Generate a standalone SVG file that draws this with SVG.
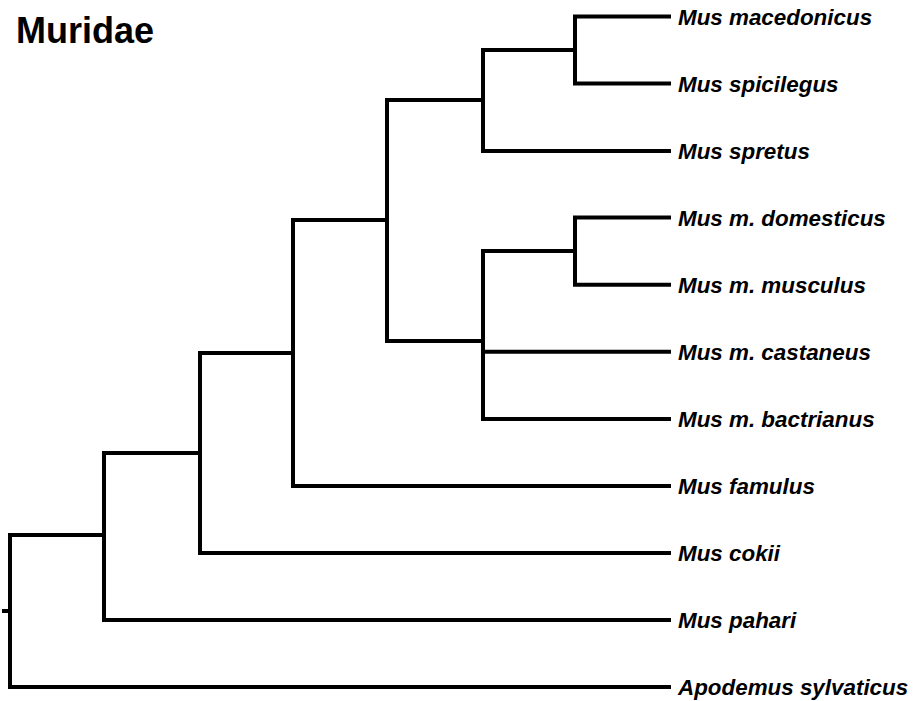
<svg xmlns="http://www.w3.org/2000/svg" width="916" height="701" viewBox="0 0 916 701">
<style>
.br{fill:none;stroke:#000;stroke-width:4;stroke-linejoin:miter;stroke-linecap:square}
.lb{font-family:"Liberation Sans",Arial,sans-serif;font-weight:bold;font-style:italic;font-size:22.4px;fill:#000}
.tt{font-family:"Liberation Sans",Arial,sans-serif;font-weight:bold;font-size:36px;fill:#000}
</style>
<rect width="916" height="701" fill="#fff"/>
<g id="title"><text class="tt" x="16" y="43">Muridae</text></g>
<g id="connectors">
<path class="br" d="M4,611 H10"/>
<path class="br" d="M104,535 H10 V687 H669"/>
<path class="br" d="M200,453 H104 V620 H669"/>
<path class="br" d="M293,353 H200 V553 H669"/>
<path class="br" d="M387,220 H293 V486 H669"/>
<path class="br" d="M483,100 H387 V341 H483"/>
<path class="br" d="M575,50 H483 V151 H669"/>
<path class="br" d="M669,16.5 H575 V83.5 H669"/>
<path class="br" d="M575,251 H483 V419 H669"/>
<path class="br" d="M483,351.7 H669"/>
<path class="br" d="M669,217.6 H575 V284.7 H669"/>
</g>
<g id="n_macedonicus"><text class="lb" x="678" y="25">Mus macedonicus</text></g>
<g id="n_spicilegus"><text class="lb" x="678" y="92">Mus spicilegus</text></g>
<g id="n_spretus"><text class="lb" x="678" y="159">Mus spretus</text></g>
<g id="n_domesticus"><text class="lb" x="678" y="226">Mus m. domesticus</text></g>
<g id="n_musculus"><text class="lb" x="678" y="293">Mus m. musculus</text></g>
<g id="n_castaneus"><text class="lb" x="678" y="360">Mus m. castaneus</text></g>
<g id="n_bactrianus"><text class="lb" x="678" y="427">Mus m. bactrianus</text></g>
<g id="n_famulus"><text class="lb" x="678" y="494">Mus famulus</text></g>
<g id="n_cokii"><text class="lb" x="678" y="561">Mus cokii</text></g>
<g id="n_pahari"><text class="lb" x="678" y="628">Mus pahari</text></g>
<g id="n_apodemus"><text class="lb" x="678" y="695">Apodemus sylvaticus</text></g>
</svg>
